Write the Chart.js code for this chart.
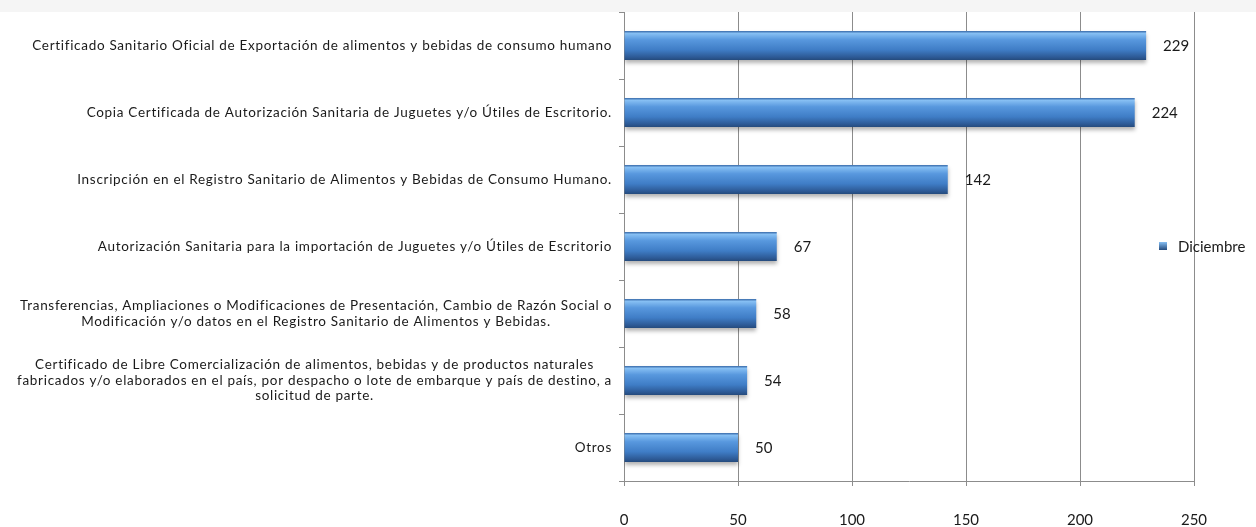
<!DOCTYPE html>
<html>
<head>
<meta charset="utf-8">
<script src="https://cdn.jsdelivr.net/npm/chart.js@4.4.0/dist/chart.umd.min.js"></script>
<style>
  html, body { margin: 0; padding: 0; background: #fff; }
  #wrap { position: relative; width: 1256px; height: 527px; }
  #band { position: absolute; left: 0; top: 0; width: 1256px; height: 12px; background: #f5f5f5; }
  #chart { position: absolute; left: 0; top: 0; }
</style>
</head>
<body>
<div id="wrap">
  <div id="band"></div>
  <canvas id="chart" width="1256" height="527"></canvas>
</div>
<script>
// categories (each is a list of lines)
var categories = [
  ['Certificado Sanitario Oficial de Exportación de alimentos y bebidas de consumo humano'],
  ['Copia Certificada de Autorización Sanitaria de Juguetes y/o Útiles de Escritorio.'],
  ['Inscripción en el Registro Sanitario de Alimentos y Bebidas de Consumo Humano.'],
  ['Autorización Sanitaria para la importación de Juguetes y/o Útiles de Escritorio '],
  ['Transferencias, Ampliaciones o Modificaciones de Presentación, Cambio de Razón Social o',
   'Modificación y/o datos en el Registro Sanitario de Alimentos y Bebidas.'],
  ['Certificado de Libre Comercialización de alimentos, bebidas y de productos naturales',
   'fabricados y/o elaborados en el país, por despacho o lote de embarque y país de destino, a',
   'solicitud de parte.'],
  ['Otros']
];
var diciembre = [229, 224, 142, 67, 58, 54, 50];
var seriesName = 'Diciembre';
var xMin = 0, xMax = 250, xStep = 50;

var FONT = 'Lato, "Open Sans", sans-serif';
var BAR_PCT = 0.43;
var GRID = '#8c8c8c';

function barFill(c) {
  if (c.type !== 'data' || !c.chart.chartArea) return '#4a86cc';
  var y = c.chart.scales.y;
  var band = Math.abs(y.getPixelForValue(1) - y.getPixelForValue(0));
  var mid = y.getPixelForValue(c.dataIndex);
  var half = band * BAR_PCT / 2;
  var g = c.chart.ctx.createLinearGradient(0, mid - half, 0, mid + half);
  g.addColorStop(0, '#3a6cab');
  g.addColorStop(0.08, '#86bff3');
  g.addColorStop(0.3, '#5898de');
  g.addColorStop(0.65, '#3f7dc6');
  g.addColorStop(0.9, '#2d5a96');
  g.addColorStop(1, '#254b7d');
  return g;
}

// shadow under bars, value labels, category labels and legend
var decor = {
  id: 'decor',
  beforeDatasetsDraw: function(chart) {
    var ctx = chart.ctx;
    ctx.save();
    ctx.shadowColor = 'rgba(0,0,0,0.3)';
    ctx.shadowBlur = 4;
    ctx.shadowOffsetY = 3;
  },
  afterDatasetsDraw: function(chart) {
    var ctx = chart.ctx;
    ctx.restore();
    var meta = chart.getDatasetMeta(0);
    ctx.save();
    ctx.fillStyle = '#1a1a1a';
    ctx.font = '15px ' + FONT;
    ctx.textAlign = 'left';
    ctx.textBaseline = 'middle';
    meta.data.forEach(function(bar, i) {
      ctx.fillText(String(diciembre[i]), bar.x + 17, bar.y + 1);
    });

    // category labels: block right aligned, lines centered inside block
    var ys = chart.scales.y;
    ctx.save();
    ctx.font = '13.5px ' + FONT;
    ctx.letterSpacing = '0.7px';
    ctx.textAlign = 'center';
    var right = ys.right - 12;
    var lh = 15.5;
    categories.forEach(function(lines, i) {
      var w = 0;
      lines.forEach(function(l) { w = Math.max(w, ctx.measureText(l.trim()).width); });
      var cx = right - w / 2;
      var cy = ys.getPixelForTick(i);
      lines.forEach(function(l, k) {
        ctx.fillText(l.trim(), cx, cy + (k - (lines.length - 1) / 2) * lh);
      });
    });
    ctx.restore();

    // legend
    var lx = 1159, ly = 246;
    var g = ctx.createLinearGradient(0, ly - 4, 0, ly + 4);
    g.addColorStop(0, '#86bff3');
    g.addColorStop(1, '#254b7d');
    ctx.fillStyle = g;
    ctx.fillRect(lx, ly - 4, 8, 8);
    ctx.fillStyle = '#1a1a1a';
    ctx.font = '15px ' + FONT;
    ctx.textAlign = 'left';
    ctx.fillText(seriesName, lx + 19, ly + 1);
    ctx.restore();
  }
};

new Chart(document.getElementById('chart'), {
  type: 'bar',
  data: {
    labels: categories,
    datasets: [{
      label: seriesName,
      data: diciembre,
      backgroundColor: barFill,
      borderWidth: 0,
      barPercentage: BAR_PCT,
      categoryPercentage: 1
    }]
  },
  options: {
    indexAxis: 'y',
    responsive: false,
    animation: false,
    layout: { padding: { top: 12, right: 62, left: 0, bottom: 0 } },
    plugins: {
      legend: { display: false },
      tooltip: { enabled: false }
    },
    scales: {
      x: {
        min: xMin,
        max: xMax,
        ticks: {
          stepSize: xStep,
          color: '#1a1a1a',
          font: { family: FONT, size: 15 },
          padding: 25
        },
        grid: { color: GRID, lineWidth: 1, tickLength: 5 },
        border: { color: GRID, width: 1 },
        afterFit: function(s) { s.height = 46; }
      },
      y: {
        ticks: { display: false },
        grid: { color: GRID, drawOnChartArea: false, tickLength: 5, offset: true },
        border: { color: GRID, width: 1 },
        afterFit: function(s) { s.width = 624; }
      }
    }
  },
  plugins: [decor]
});
</script>
</body>
</html>
